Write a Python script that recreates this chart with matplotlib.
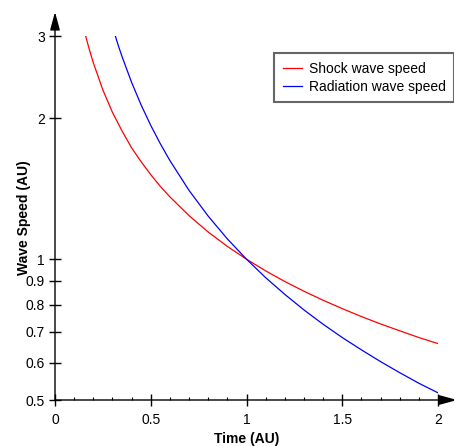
import matplotlib.pyplot as plt

plt.rcParams['font.family'] = ['Liberation Sans', 'DejaVu Sans']

# curves (time in AU, speed in AU)
shock_t = [0.16, 0.18, 0.2, 0.25, 0.3, 0.35, 0.4, 0.45, 0.5, 0.55, 0.6, 0.7, 0.8, 0.9,
           1.0, 1.1, 1.2, 1.3, 1.4, 1.5, 1.6, 1.7, 1.8, 1.9, 2.0]
shock_v = [3.0, 2.80, 2.63, 2.30, 2.06, 1.88, 1.73, 1.615, 1.516, 1.431, 1.359, 1.239, 1.143, 1.065,
           1.0, 0.944, 0.896, 0.854, 0.817, 0.784, 0.754, 0.727, 0.703, 0.680, 0.660]

rad_t = [0.315, 0.33, 0.35, 0.4, 0.45, 0.5, 0.55, 0.6, 0.7, 0.8, 0.9,
         1.0, 1.1, 1.2, 1.3, 1.4, 1.5, 1.6, 1.7, 1.8, 1.9, 2.0]
rad_v = [3.0, 2.867, 2.711, 2.388, 2.135, 1.932, 1.765, 1.625, 1.403, 1.236, 1.105,
         1.0, 0.913, 0.841, 0.779, 0.726, 0.680, 0.640, 0.604, 0.572, 0.543, 0.518]

y_ticks = [0.5, 0.6, 0.7, 0.8, 0.9, 1, 2, 3]
y_labels = ["0.5", "0.6", "0.7", "0.8", "0.9", "1", "2", "3"]
x_ticks = [0, 0.5, 1, 1.5, 2]
x_labels = ["0", "0.5", "1", "1.5", "2"]

fig = plt.figure(figsize=(4.54, 4.46), dpi=100)
ax = fig.add_axes([55 / 454, 46 / 446, 383 / 454, 364 / 446])

ax.plot(shock_t, shock_v, color='#ff0000', lw=0.9, label='Shock wave speed')
ax.plot(rad_t, rad_v, color='#0000ff', lw=0.9, label='Radiation wave speed')

ax.set_yscale('log')
ax.set_xlim(0, 2)
ax.set_ylim(0.5, 3)
ax.set_yticks(y_ticks)
ax.set_yticklabels(y_labels)
ax.yaxis.set_minor_locator(plt.NullLocator())
ax.set_xticks(x_ticks)
ax.set_xticklabels(x_labels)
ax.set_xticks([i / 10 for i in range(1, 20) if i % 5], minor=True)

ax.tick_params(which='major', direction='inout', length=8.5, width=1, labelsize=10, colors='black')
ax.tick_params(axis='x', which='major', pad=5)
ax.tick_params(axis='y', which='major', pad=3)
ax.tick_params(axis='x', which='minor', direction='in', length=2.5, width=0.8)

for s in ax.spines.values():
    s.set_visible(False)

# axes drawn as arrows
arrow = dict(arrowstyle='-|>,head_length=1.1,head_width=0.3', color='black', lw=1, shrinkA=0, shrinkB=0)
ax.annotate('', xy=(0, 1.066), xytext=(0, 0), xycoords='axes fraction', arrowprops=arrow, annotation_clip=False)
ax.annotate('', xy=(1.05, 0), xytext=(0, 0), xycoords='axes fraction', arrowprops=arrow, annotation_clip=False)

ax.set_xlabel('Time (AU)', fontsize=10, fontweight='bold', labelpad=4)
ax.set_ylabel('Wave Speed (AU)', fontsize=10, fontweight='bold', labelpad=-3.5)

leg = ax.legend(loc='upper left', bbox_to_anchor=(274 / 454, 1 - 53 / 446), bbox_transform=fig.transFigure,
                borderaxespad=0, fontsize=10, frameon=True, fancybox=False, handlelength=1.4,
                handletextpad=0.5, labelspacing=0.28, borderpad=0.62)
leg.get_frame().set_edgecolor('#404040')
leg.get_frame().set_linewidth(1.5)

fig.savefig('out.png', dpi=100)
